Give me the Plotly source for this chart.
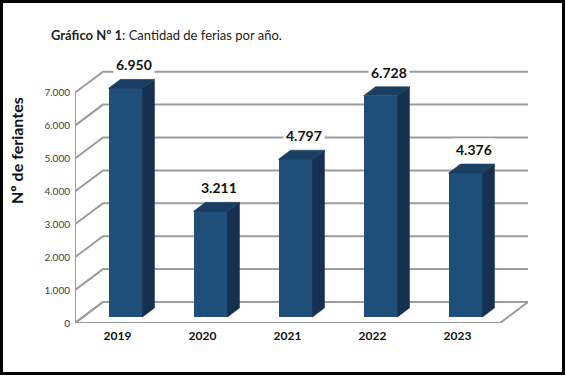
import plotly.graph_objects as go

# ---- data ----
years = ["2019", "2020", "2021", "2022", "2023"]
values = [6950, 3211, 4797, 6728, 4376]
value_labels = ["6.950", "3.211", "4.797", "6.728", "4.376"]
tick_values = [0, 1000, 2000, 3000, 4000, 5000, 6000, 7000]
tick_labels = ["0", "1.000", "2.000", "3.000", "4.000", "5.000", "6.000", "7.000"]

# ---- layout geometry (pixels) ----
W, H = 566, 376
ML, MR, MT, MB = 75, 38, 50, 53
PX_X = 85.0          # pixels per category
PX_Y = 0.0329        # pixels per unit of value
x0_range = -0.5
x1_range = x0_range + (W - ML - MR) / PX_X
y1_range = (H - MT - MB) / PX_Y

# 3D offsets in data units
WALL_DX, WALL_DY = 28 / PX_X, 21 / PX_Y
FRONT_DX, FRONT_DY = 8 / PX_X, 6 / PX_Y
DEPTH_DX, DEPTH_DY = 12 / PX_X, 9 / PX_Y
BAR_W = 34 / PX_X

GRID = "#9c9c9c"
FRONT = "#1f4e79"
SIDE = "#15314f"
TOP = "#1a3d62"
FONT = "Lato, 'Open Sans', sans-serif"

fig = go.Figure()
n = len(years)

# gridlines (below traces): left-wall slants and back-wall horizontals
for v in tick_values:
    fig.add_shape(type="path", layer="below", xref="x", yref="y",
                  path="M %f,%f L %f,%f L %f,%f" % (x0_range, v, x0_range + WALL_DX, v + WALL_DY,
                                                    x1_range, v + WALL_DY),
                  line=dict(color=GRID, width=2))

# floor outline
fig.add_shape(type="path", layer="below", xref="x", yref="y",
              path="M %f,%f L %f,%f L %f,%f L %f,%f Z" % (x0_range, 0, n - 0.5, 0,
                                                          n - 0.5 + WALL_DX, WALL_DY,
                                                          x0_range + WALL_DX, WALL_DY),
              line=dict(color=GRID, width=2))

# front vertical axis line
fig.add_shape(type="line", layer="below", xref="x", yref="y",
              x0=x0_range, x1=x0_range, y0=0, y1=max(tick_values),
              line=dict(color=GRID, width=2))

# bars: front faces
fig.add_trace(go.Bar(
    x=[i + FRONT_DX for i in range(n)], y=values, base=FRONT_DY, width=BAR_W,
    marker=dict(color=FRONT, line=dict(width=0)), showlegend=False, hoverinfo="skip"))

# bars: side and top faces
for i, v in enumerate(values):
    xl = i + FRONT_DX - BAR_W / 2
    xr = i + FRONT_DX + BAR_W / 2
    yb = FRONT_DY
    yt = FRONT_DY + v
    fig.add_trace(go.Scatter(
        x=[xr, xr + DEPTH_DX, xr + DEPTH_DX, xr, xr],
        y=[yb, yb + DEPTH_DY, yt + DEPTH_DY, yt, yb],
        fill="toself", fillcolor=SIDE, mode="lines", line=dict(color=SIDE, width=0.5),
        hoverinfo="skip", showlegend=False))
    fig.add_trace(go.Scatter(
        x=[xl, xr, xr + DEPTH_DX, xl + DEPTH_DX, xl],
        y=[yt, yt, yt + DEPTH_DY, yt + DEPTH_DY, yt],
        fill="toself", fillcolor=TOP, mode="lines", line=dict(color=TOP, width=0.5),
        hoverinfo="skip", showlegend=False))

# value labels
for i, v in enumerate(values):
    fig.add_annotation(
        x=i + FRONT_DX + DEPTH_DX / 2, y=FRONT_DY + v + DEPTH_DY,
        text="<b>%s</b>" % value_labels[i], showarrow=False, yanchor="bottom",
        yshift=3, xshift=2, bgcolor="white", borderpad=2,
        font=dict(family=FONT, size=14, color="#111111"))

# title
fig.add_annotation(
    xref="paper", yref="paper", x=(49 - ML) / (W - ML - MR), y=1 + (MT - 35) / (H - MT - MB),
    xanchor="left", yanchor="middle", showarrow=False,
    text="<b>Gráfico Nº 1</b>: Cantidad de ferias por año.",
    font=dict(family=FONT, size=13, color="#222222"))

# y-axis title
fig.add_annotation(
    xref="paper", yref="paper", x=(16 - ML) / (W - ML - MR), y=(H - MB - 151) / (H - MT - MB),
    xanchor="center", yanchor="middle", showarrow=False, textangle=-90,
    text="<b>Nº de feriantes</b>",
    font=dict(family=FONT, size=16, color="#111111"))

# border
fig.add_shape(type="rect", xref="paper", yref="paper",
              x0=-(ML - 1.5) / (W - ML - MR), x1=1 + (MR - 2.5) / (W - ML - MR),
              y0=-(MB - 2.5) / (H - MT - MB), y1=1 + (MT - 1.5) / (H - MT - MB),
              line=dict(color="black", width=3))

fig.update_layout(
    width=W, height=H, margin=dict(l=ML, r=MR, t=MT, b=MB),
    paper_bgcolor="white", plot_bgcolor="white",
    font=dict(family=FONT),
    xaxis=dict(range=[x0_range, x1_range], tickvals=list(range(n)),
               ticktext=["<b>%s</b>" % y for y in years], showgrid=False, zeroline=False,
               showline=False, ticks="", tickfont=dict(size=12, color="#111111"),
               ticklabelstandoff=4, fixedrange=True),
    yaxis=dict(range=[0, y1_range], tickvals=tick_values, ticktext=tick_labels,
               showgrid=False, zeroline=False, showline=False, ticks="",
               tickfont=dict(size=10, color="#404040"), ticklabelstandoff=4,
               fixedrange=True),
    bargap=0,
)

fig.write_html("out.html", config={"displayModeBar": False},
               post_script="document.body.style.margin='0';document.body.style.overflow='hidden';")
